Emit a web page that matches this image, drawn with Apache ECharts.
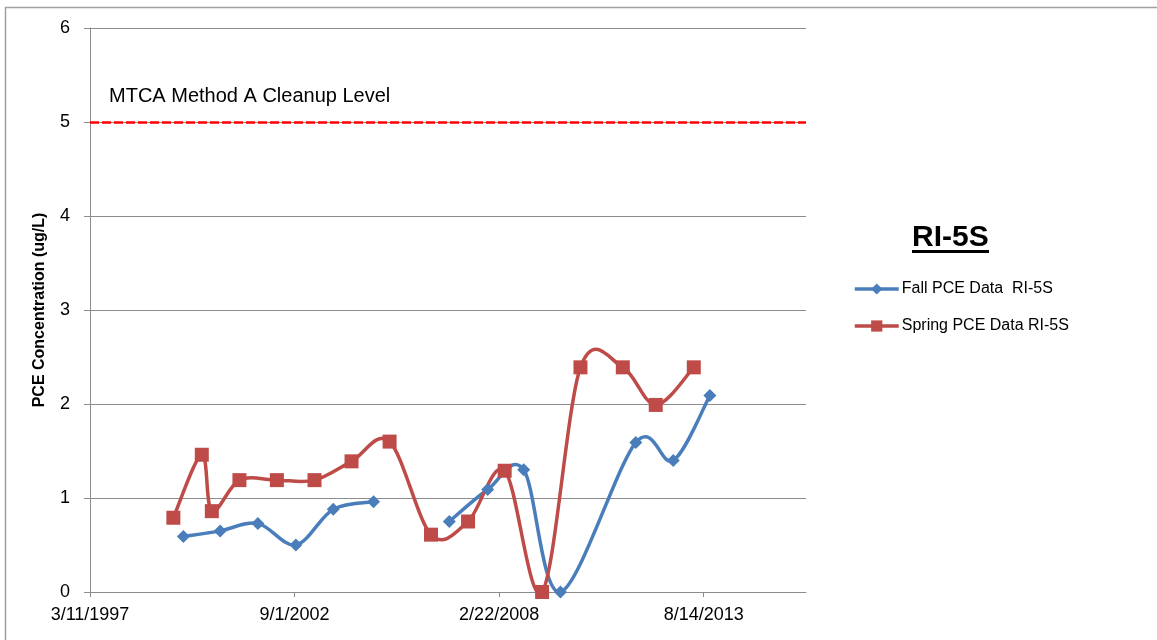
<!DOCTYPE html>
<html>
<head>
<meta charset="utf-8">
<script src="https://cdn.jsdelivr.net/npm/echarts@6/dist/echarts.min.js"></script>
<style>
  html, body { margin: 0; padding: 0; background: #fff; }
  #chart { width: 1157px; height: 640px; }
</style>
</head>
<body>
<div id="chart"></div>
<script>
// x axis: days counted from the first tick date
const axisStart = '1997-03-11'
const tickLabels = ['3/11/1997', '9/1/2002', '2/22/2008', '8/14/2013']
const tickStep = 2000
const axisEnd = 7000

// fall samples (null = no sample, line breaks)
const fallDates = ['1999-09-10', '2000-09-03', '2001-09-07', '2002-09-14', '2003-09-14', '2004-10-12',
  '2005-10-15', '2006-10-23', '2007-11-02', '2008-10-19', '2009-10-13', '2011-10-20', '2012-10-20', '2013-10-13']
const fallValues = [0.59, 0.65, 0.73, 0.50, 0.88, 0.96, null, 0.75, 1.09, 1.30, 0.00, 1.59, 1.40, 2.09]

// spring samples
const springDates = ['1999-06-04', '2000-03-08', '2000-06-14', '2001-03-11', '2002-03-12', '2003-03-15',
  '2004-03-11', '2005-03-18', '2006-04-27', '2007-04-24', '2008-04-16', '2009-04-17', '2010-04-27',
  '2011-06-15', '2012-05-02', '2013-05-09']
const springValues = [0.79, 1.46, 0.86, 1.19, 1.19, 1.19, 1.39, 1.60, 0.61, 0.75, 1.29, 0.00, 2.39, 2.39, 1.99, 2.39]

const cleanupLevel = 5

const fallColor = '#4a7ebb'
const springColor = '#be4b48'
const font = 'Liberation Sans, Arial, sans-serif'

function dayOffset (s) {
  return (Date.parse(s) - Date.parse(axisStart)) / 86400000
}
function pairs (dates, values) {
  return dates.map((d, i) => [dayOffset(d), values[i] === null ? '-' : values[i]])
}

// excel-like smoothed line: catmull-rom through the points, broken at gaps
function smoothRenderer (data, color) {
  return function (params, api) {
    let d = ''
    let seg = []
    const flush = () => {
      if (seg.length > 1) {
        d += 'M' + seg[0][0] + ' ' + seg[0][1]
        for (let i = 0; i < seg.length - 1; i++) {
          const p0 = seg[Math.max(i - 1, 0)]
          const p1 = seg[i]
          const p2 = seg[i + 1]
          const p3 = seg[Math.min(i + 2, seg.length - 1)]
          const c1 = [p1[0] + (p2[0] - p0[0]) / 6, p1[1] + (p2[1] - p0[1]) / 6]
          const c2 = [p2[0] - (p3[0] - p1[0]) / 6, p2[1] - (p3[1] - p1[1]) / 6]
          d += 'C' + c1.join(' ') + ' ' + c2.join(' ') + ' ' + p2.join(' ')
        }
      }
      seg = []
    }
    data.forEach(p => {
      if (p[1] === '-') flush()
      else seg.push(api.coord(p))
    })
    flush()
    return {
      type: 'path',
      shape: { pathData: d },
      style: { fill: 'none', stroke: color, lineWidth: 3.5, lineJoin: 'round' },
      silent: true
    }
  }
}

const fallData = pairs(fallDates, fallValues)
const springData = pairs(springDates, springValues)

const chart = echarts.init(document.getElementById('chart'))

chart.setOption({
  animation: false,
  textStyle: { fontFamily: font },
  graphic: [
    // outer chart border
    {
      type: 'rect',
      shape: { x: 5.5, y: 7.5, width: 1200, height: 700 },
      style: { fill: 'none', stroke: '#a0a0a0', lineWidth: 1.5 },
      silent: true
    },
    {
      type: 'text',
      left: 912,
      top: 223,
      style: { text: 'RI-5S', font: 'bold 30px ' + font, fill: '#000' }
    },
    {
      type: 'rect',
      shape: { x: 912, y: 250, width: 77, height: 3 },
      style: { fill: '#000' }
    }
  ],
  grid: { left: 90, top: 28, right: 351, bottom: 48 },
  legend: {
    orient: 'vertical',
    left: 848,
    top: 276,
    itemWidth: 44,
    itemHeight: 14,
    itemGap: 21,
    lineStyle: { opacity: 1, width: 3.5 },
    textStyle: { fontSize: 16, color: '#000', padding: [0, 0, 0, -2] },
    data: ['Fall PCE Data  RI-5S', 'Spring PCE Data RI-5S']
  },
  xAxis: {
    type: 'value',
    min: 0,
    max: axisEnd,
    interval: tickStep,
    axisLine: { lineStyle: { color: '#8c8c8c', width: 1 } },
    axisTick: { show: true, length: 5, lineStyle: { color: '#8c8c8c' } },
    splitLine: { show: false },
    axisLabel: {
      color: '#000',
      fontSize: 18,
      margin: 14,
      showMaxLabel: false,
      formatter: v => tickLabels[v / tickStep] || ''
    }
  },
  yAxis: {
    type: 'value',
    min: 0,
    max: 6,
    interval: 1,
    name: 'PCE Concentration (ug/L)',
    nameLocation: 'middle',
    nameGap: 42,
    nameTextStyle: { fontSize: 16, fontWeight: 'bold', color: '#000' },
    axisLine: { show: true, lineStyle: { color: '#8c8c8c', width: 1 } },
    axisTick: { show: true, length: 6, lineStyle: { color: '#8c8c8c' } },
    splitLine: { lineStyle: { color: '#8c8c8c', width: 1 } },
    axisLabel: { color: '#000', fontSize: 18, margin: 20 }
  },
  series: [
    {
      name: 'fall curve',
      type: 'custom',
      data: [[0, 0]],
      renderItem: smoothRenderer(fallData, fallColor),
      z: 2
    },
    {
      name: 'spring curve',
      type: 'custom',
      data: [[0, 0]],
      renderItem: smoothRenderer(springData, springColor),
      z: 2
    },
    {
      name: 'Fall PCE Data  RI-5S',
      type: 'line',
      data: fallData,
      connectNulls: false,
      symbol: 'diamond',
      symbolSize: 13,
      color: fallColor,
      lineStyle: { width: 3.5, color: fallColor, opacity: 0 },
      itemStyle: { color: fallColor },
      z: 3,
      markLine: {
        silent: true,
        symbol: 'none',
        data: [{ yAxis: cleanupLevel }],
        lineStyle: { color: '#ff0000', width: 2.5, type: [9, 3], opacity: 1 },
        label: {
          show: true,
          position: 'insideStartTop',
          distance: [19, 16],
          formatter: 'MTCA Method A Cleanup Level',
          color: '#000',
          fontSize: 20
        }
      }
    },
    {
      name: 'Spring PCE Data RI-5S',
      type: 'line',
      data: springData,
      symbol: 'rect',
      symbolSize: 14,
      color: springColor,
      lineStyle: { width: 3.5, color: springColor, opacity: 0 },
      itemStyle: { color: springColor },
      z: 3
    }
  ]
})
</script>
</body>
</html>
